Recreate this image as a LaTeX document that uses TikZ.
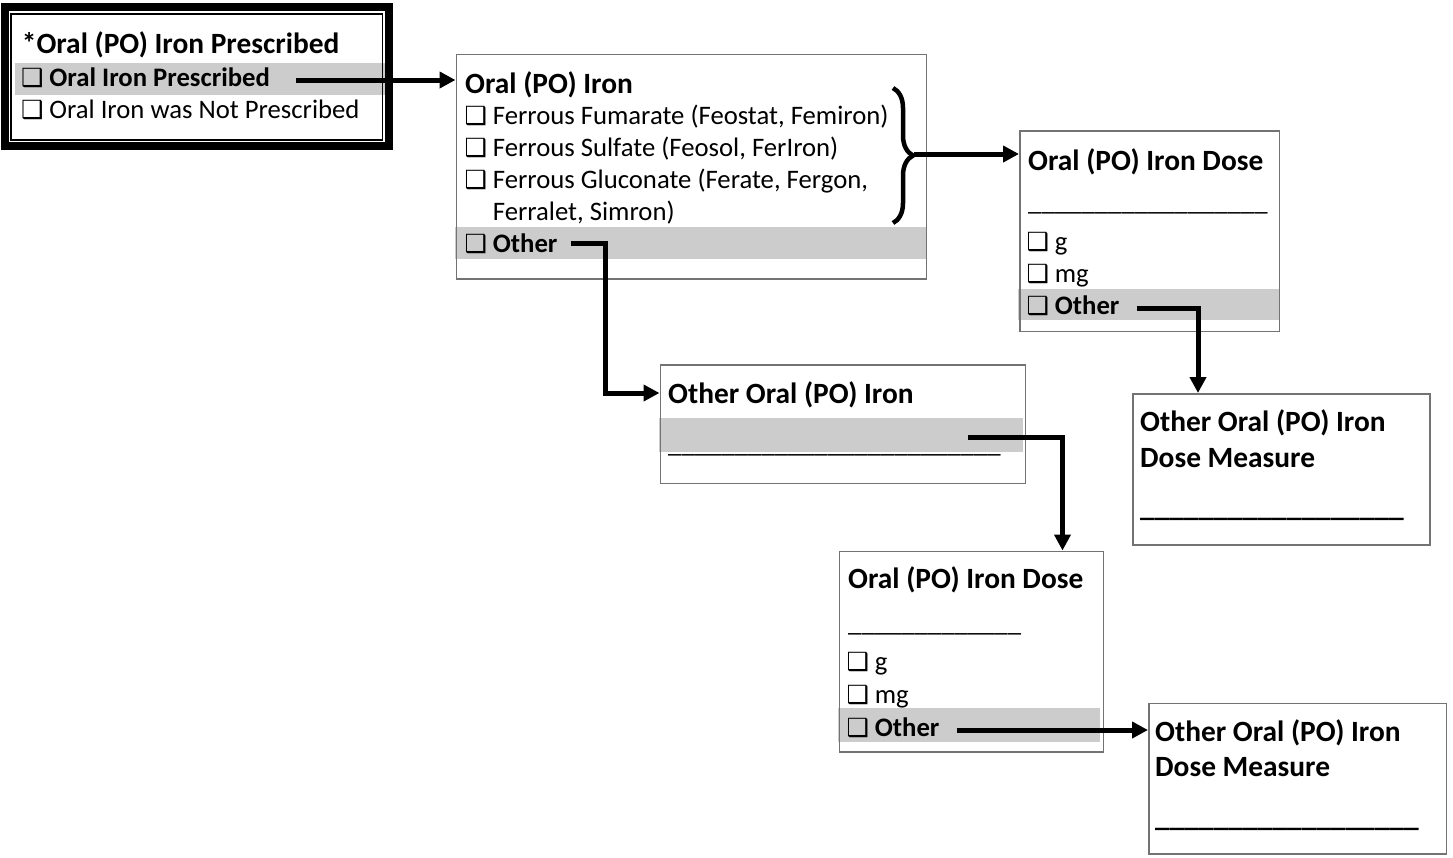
\documentclass[tikz,border=0pt]{standalone}
\usepackage{fontspec}
\setmainfont{Carlito}
\newfontfamily\dejavu{DejaVu Sans}
\usetikzlibrary{arrows.meta,decorations.pathreplacing,calc}
\newcommand{\fsz}{\fontsize{26.7}{32}\selectfont}
\newcommand{\hsz}{\fontsize{29.4}{35}\selectfont}
\newcommand{\cbox}{\makebox[26.7pt][l]{\hspace*{-1.5pt}\dejavu\fontsize{25}{25}\selectfont ❑}}

\begin{document}
\begin{tikzpicture}[x=1pt,y=-1pt,>={Triangle[length=16pt,width=16pt]},
  box/.style={draw=black!55,line width=1.6pt,anchor=north west,inner sep=0pt},
  band/.style={fill=black!20},
  txt/.style={anchor=base west,inner sep=0pt,font=\fsz},
  opt/.style={txt,font=\fsz\bfseries},
  hd/.style={txt,font=\hsz\bfseries},
  arr/.style={->,line width=5pt}]
  \useasboundingbox (0,0) rectangle (1453,857);
  \fill[band] (15,63) rectangle (386,95);
  \fill[band] (455,227) rectangle (926,258.5);
  \fill[band] (1018,288.5) rectangle (1280,320);
  \fill[band] (659,418.3) rectangle (1023,451.7);
  \fill[band] (838,708.3) rectangle (1100,741.7);
  % boxes
  \node[draw,line width=7.5pt,anchor=north west,inner sep=0pt,minimum width=384.25pt,minimum height=139pt] (presc) at (1,3.25) {};
  \draw[line width=1.5pt] ([shift={(10,10.5)}]presc.north west) rectangle ([shift={(-10.5,-10)}]presc.south east);
  \node[box,minimum width=470pt,minimum height=224.5pt] (oral) at (455.5,53.5) {};
  \node[box,minimum width=259.5pt,minimum height=200.5pt] (dose) at (1019,130) {};
  \node[box,minimum width=297pt,minimum height=151pt] (dmeas) at (1132,393) {};
  \node[box,minimum width=365pt,minimum height=118.5pt] (other) at (659.5,364) {};
  \node[box,minimum width=264pt,minimum height=200.5pt] (dose2) at (838.5,550.5) {};
  \node[box,minimum width=297.5pt,minimum height=150.5pt] (dmeas2) at (1148,702.5) {};
  % texts
  \node[hd] (t1) at (21.7,53) {*Oral (PO) Iron Prescribed};
  \node[opt] (yes1) at (22.5,86.5) {\cbox Oral Iron Prescribed};
  \node[txt] (no1) at (22.5,118) {\cbox Oral Iron was Not Prescribed};
  \node[hd] (t2) at (465,93) {Oral (PO) Iron};
  \node[txt] (fum) at (466,124.5) {\cbox Ferrous Fumarate (Feostat, Femiron)};
  \node[txt] (sul) at (466,156) {\cbox Ferrous Sulfate (Feosol, FerIron)};
  \node[txt] (glu) at (466,188) {\cbox Ferrous Gluconate (Ferate, Fergon,};
  \node[txt] (glu2) at (492.7,220) {Ferralet, Simron)};
  \node[opt] (oth2) at (466,252.5) {\cbox Other};
  \node[hd] (t3) at (1028,170) {Oral (PO) Iron Dose};
  \node[txt] (u3) at (1028,210) {\_\_\_\_\_\_\_\_\_\_\_\_\_\_\_\_\_\_};
  \node[txt] (g3) at (1028,250.5) {\cbox g};
  \node[txt] (mg3) at (1028,282) {\cbox mg};
  \node[opt] (oth3) at (1028,314.5) {\cbox Other};
  \node[hd] (t4) at (1140,431) {Other Oral (PO) Iron};
  \node[hd] (t4b) at (1140,467.5) {Dose Measure};
  \node[hd] (u4) at (1140,516.5) {\_\_\_\_\_\_\_\_\_\_\_\_\_\_\_\_\_\_};
  \node[hd] (t5) at (668,403) {Other Oral (PO) Iron};
  \node[txt] (u5) at (668,452) {\_\_\_\_\_\_\_\_\_\_\_\_\_\_\_\_\_\_\_\_\_\_\_\_\_};
  \node[hd] (t6) at (848,588.5) {Oral (PO) Iron Dose};
  \node[txt] (u6) at (848,631) {\_\_\_\_\_\_\_\_\_\_\_\_\_};
  \node[txt] (g6) at (848,670) {\cbox g};
  \node[txt] (mg6) at (848,703) {\cbox mg};
  \node[opt] (oth6) at (848,736) {\cbox Other};
  \node[hd] (t7) at (1155,741) {Other Oral (PO) Iron};
  \node[hd] (t7b) at (1155,776.5) {Dose Measure};
  \node[hd] (u7) at (1155,826) {\_\_\_\_\_\_\_\_\_\_\_\_\_\_\_\_\_\_};
  % brace and connectors
  \draw[line width=4.5pt,decorate,decoration={brace,amplitude=20pt}] (893,88) -- (893,223);
  \coordinate (tip) at (914,154);
  \coordinate (a1) at ([shift={(26,-6.5)}]yes1.base east);
  \coordinate (a2) at ([shift={(13,-9)}]oth2.base east);
  \coordinate (a3) at ([shift={(17,-6.5)}]oth3.base east);
  \coordinate (a5) at (968,437);
  \coordinate (a6) at ([shift={(17,-6)}]oth6.base east);
  \coordinate (e5) at ([shift={(0,-10)}]t5.base west);
  \draw[arr] (a1) -- (a1 -| oral.west);
  \draw[arr] (tip) -- (tip -| dose.west);
  \draw[arr] (a2) -- ++(35,0) |- (e5 -| other.west);
  \draw[arr] (a3) -| ([xshift=66pt]dmeas.north west);
  \draw[arr] (a5) -| ([xshift=224pt]dose2.north west);
  \draw[arr] (a6) -- (a6 -| dmeas2.west);
\end{tikzpicture}
\end{document}
